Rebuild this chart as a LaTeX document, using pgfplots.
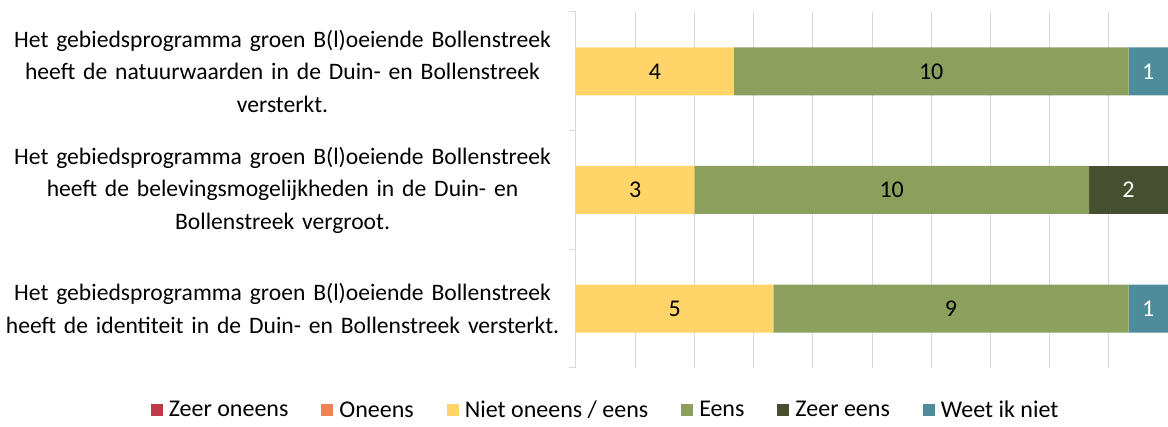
\documentclass[border=0pt]{standalone}
\usepackage{fontspec}
\setmainfont{Carlito}
\usepackage{pgfplots}
\pgfplotsset{compat=1.18}

\definecolor{czo}{HTML}{BE3A4A}
\definecolor{co}{HTML}{EE8356}
\definecolor{cnoe}{HTML}{FFD468}
\definecolor{ce}{HTML}{8CA05D}
\definecolor{cze}{HTML}{465030}
\definecolor{cw}{HTML}{4E8C9C}
\definecolor{gridgrey}{HTML}{D9D9D9}

\begin{document}
\begin{tikzpicture}
\begin{axis}[
  at={(576pt,59pt)}, anchor=south west,
  scale only axis, width=592pt, height=356pt,
  xbar stacked, bar width=48pt,
  xmin=0, xmax=15, ymin=-0.5, ymax=2.5,
  xtick={0,1.5,...,15}, xticklabels={},
  xmajorgrids, grid style={draw=gridgrey, line width=1pt},
  major x tick style={draw=none},
  axis lines*=left,
  x axis line style={draw=none},
  y axis line style={draw=gridgrey, line width=1pt},
  ytick={0,1,2},
  yticklabels={
    {Het gebiedsprogramma groen B(l)oeiende Bollenstreek\\heeft de identiteit in de Duin- en Bollenstreek versterkt.},
    {Het gebiedsprogramma groen B(l)oeiende Bollenstreek\\heeft de belevingsmogelijkheden in de Duin- en\\Bollenstreek vergroot.},
    {Het gebiedsprogramma groen B(l)oeiende Bollenstreek\\heeft de natuurwaarden in de Duin- en Bollenstreek\\versterkt.}},
  major y tick style={draw=none},
  minor ytick={-0.5,0.5,1.5,2.5},
  minor y tick style={draw=gridgrey, line width=1pt},
  minor tick length=7pt, tick align=outside,
  yticklabel style={text width=570pt, align=center, inner sep=0pt,
    font=\fontsize{23.6}{32.5}\selectfont, xshift=-4pt},
  visualization depends on={rawx \as \rawx},
  nodes near coords={\pgfmathtruncatemacro\v{\rawx}\ifnum\v=0\relax\else\v\fi},
  every node near coord/.append style={anchor=center, inner sep=0pt,
    font=\fontsize{24}{28}\selectfont},
  legend columns=6,
  legend style={at={(0.05,-0.118)}, anchor=center, draw=none, fill=none,
    font=\fontsize{24}{28}\selectfont, inner sep=0pt,
    /tikz/every odd column/.append style={column sep=4pt},
    /tikz/every even column/.append style={column sep=31pt}},
  legend image code/.code={\fill[#1] (0pt,-6pt) rectangle (12pt,6pt);},
  every axis plot/.append style={draw=none},
]
\addplot[fill=czo] coordinates {(0,0) (0,1) (0,2)};
\addlegendentry{Zeer oneens}
\addplot[fill=co] coordinates {(0,0) (0,1) (0,2)};
\addlegendentry{Oneens}
\addplot[fill=cnoe] coordinates {(5,0) (3,1) (4,2)};
\addlegendentry{Niet oneens / eens}
\addplot[fill=ce] coordinates {(9,0) (10,1) (10,2)};
\addlegendentry{Eens}
\addplot[fill=cze, nodes near coords style={text=white}] coordinates {(0,0) (2,1) (0,2)};
\addlegendentry{Zeer eens}
\addplot[fill=cw, nodes near coords style={text=white}] coordinates {(1,0) (0,1) (1,2)};
\addlegendentry{Weet ik niet}
\end{axis}
\pgfresetboundingbox
\useasboundingbox (0,0) rectangle (1168pt,427pt);
\end{tikzpicture}
\end{document}
